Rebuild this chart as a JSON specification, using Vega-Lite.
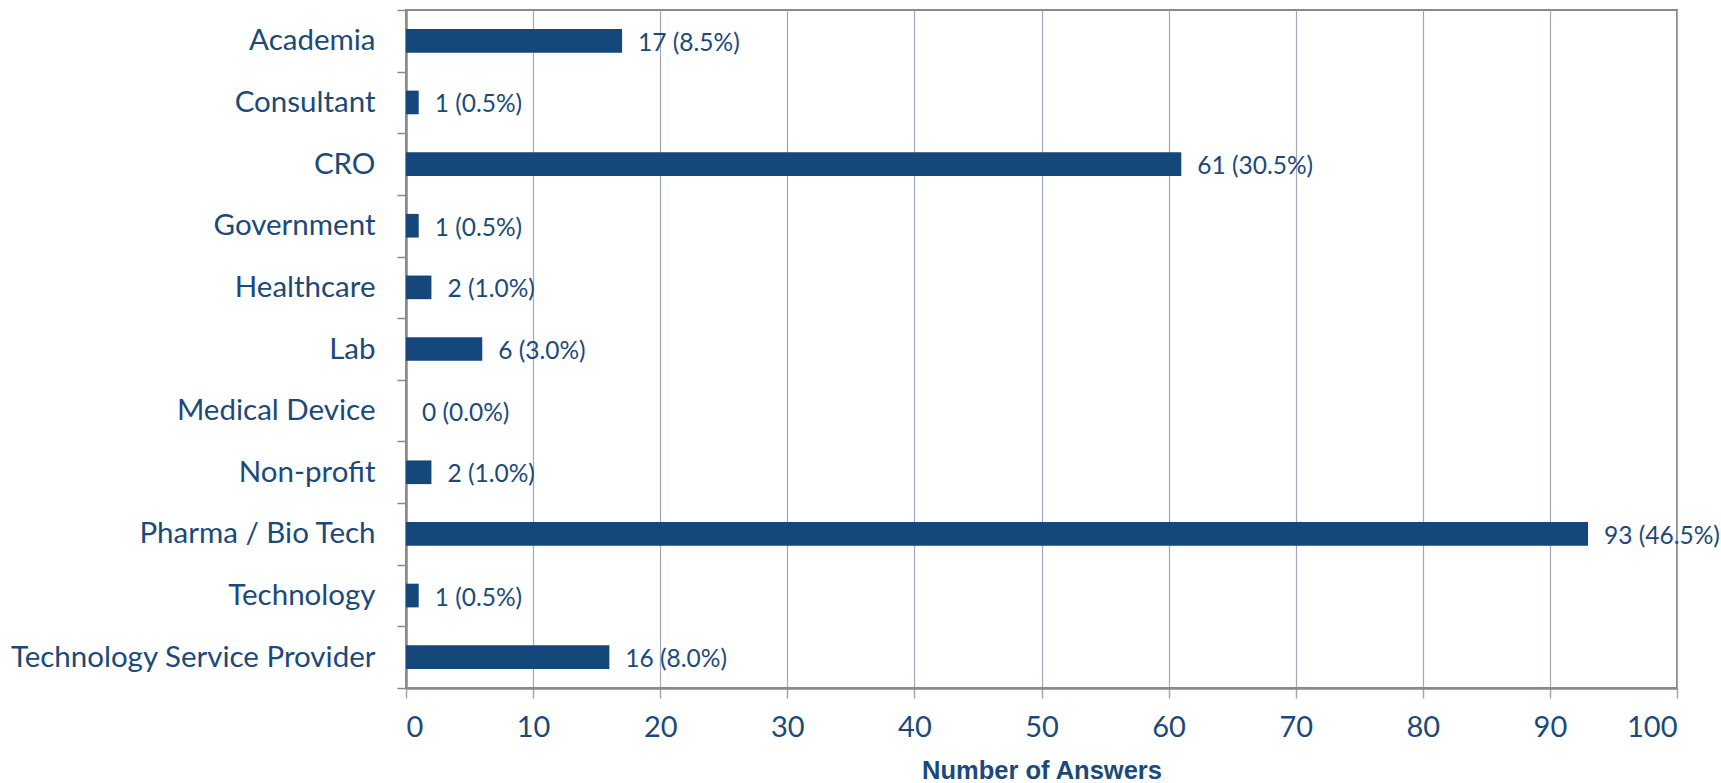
{
  "$schema": "https://vega.github.io/schema/vega-lite/v6.json",
  "autosize": "none",
  "width": 1271,
  "height": 678,
  "padding": {"left": 406, "top": 10, "right": 44, "bottom": 95},
  "background": "white",
  "config": {
    "view": {"stroke": "#8a8a8a", "strokeWidth": 2},
    "axis": {"labelFont": "Lato", "labelColor": "#1b4a7a", "titleColor": "#1b4a7a"}
  },
  "data": {
    "values": [
      {"category": "Academia", "count": 17, "label": "17 (8.5%)"},
      {"category": "Consultant", "count": 1, "label": "1 (0.5%)"},
      {"category": "CRO", "count": 61, "label": "61 (30.5%)"},
      {"category": "Government", "count": 1, "label": "1 (0.5%)"},
      {"category": "Healthcare", "count": 2, "label": "2 (1.0%)"},
      {"category": "Lab", "count": 6, "label": "6 (3.0%)"},
      {"category": "Medical Device", "count": 0, "label": "0 (0.0%)"},
      {"category": "Non-profit", "count": 2, "label": "2 (1.0%)"},
      {"category": "Pharma / Bio Tech", "count": 93, "label": "93 (46.5%)"},
      {"category": "Technology", "count": 1, "label": "1 (0.5%)"},
      {"category": "Technology Service Provider", "count": 16, "label": "16 (8.0%)"}
    ]
  },
  "encoding": {
    "y": {
      "field": "category",
      "type": "nominal",
      "sort": null,
      "scale": {"paddingInner": 0, "paddingOuter": 0},
      "axis": {
        "title": null,
        "labelFontSize": 29.5,
        "labelLimit": 0,
        "labelPadding": 22,
        "tickBand": "extent",
        "tickSize": 9,
        "tickColor": "#8a8a8a",
        "tickWidth": 1.5,
        "domainColor": "#8a8a8a",
        "domainWidth": 2.5,
        "grid": false
      }
    },
    "x": {
      "field": "count",
      "type": "quantitative",
      "scale": {"domain": [0, 100], "nice": false},
      "axis": {
        "title": "Number of Answers",
        "titleFont": "Liberation Sans",
        "titleFontWeight": "bold",
        "titleFontSize": 25.5,
        "titlePadding": 16,
        "values": [0, 10, 20, 30, 40, 50, 60, 70, 80, 90, 100],
        "labelFontSize": 29,
        "labelPadding": 15,
        "tickSize": 10,
        "tickColor": "#a0a8b8",
        "tickWidth": 1.5,
        "domainColor": "#8a8a8a",
        "domainWidth": 2.5,
        "grid": true,
        "gridColor": "#a0a8bc",
        "gridWidth": 1.2
      }
    }
  },
  "layer": [
    {
      "mark": {"type": "bar", "color": "#15477a", "height": {"band": 0.384}}
    },
    {
      "mark": {"type": "text", "align": "left", "baseline": "middle", "dx": 16, "dy": 3, "font": "Lato", "fontSize": 24.5, "color": "#1b4a7a"},
      "encoding": {"text": {"field": "label"}}
    }
  ]
}
